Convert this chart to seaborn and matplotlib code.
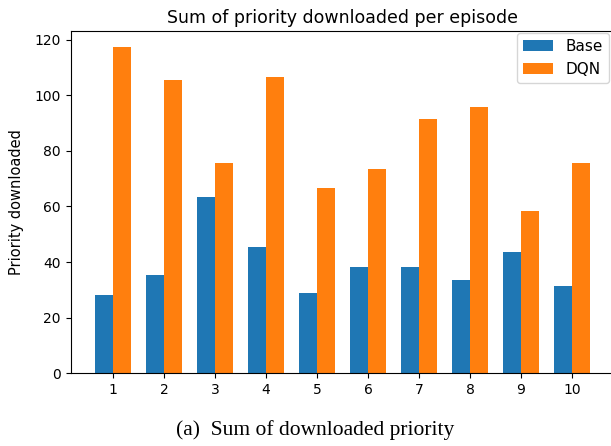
import matplotlib
matplotlib.use("Agg")
import matplotlib.pyplot as plt
import pandas as pd
import seaborn as sns

episodes = [1, 2, 3, 4, 5, 6, 7, 8, 9, 10]
base_priority = [28, 35.5, 63.5, 45.5, 29, 38.2, 38.2, 33.5, 43.5, 31.3]
dqn_priority = [117.2, 105.6, 75.5, 106.6, 66.5, 73.5, 91.4, 95.6, 58.2, 75.5]
series_names = ["Base", "DQN"]
colors = ["#1f77b4", "#ff7f0e"]

df = pd.DataFrame({
    "episode": episodes * 2,
    "priority": base_priority + dqn_priority,
    "method": [series_names[0]] * len(episodes) + [series_names[1]] * len(episodes),
})

fig = plt.figure(figsize=(6.11, 4.46), dpi=100)
ax = fig.add_axes([0.1157, 0.163, 0.890, 0.7675])

sns.barplot(data=df, x="episode", y="priority", hue="method",
            hue_order=series_names, palette=colors, saturation=1,
            width=0.7, linewidth=0, errorbar=None, ax=ax)

ax.set_xlim(-0.835, 9.835)
ax.set_ylim(0, 117.2 * 1.05)
ax.set_yticks([0, 20, 40, 60, 80, 100, 120])
ax.set_xlabel("")
ax.set_ylabel("Priority downloaded", fontsize=10.5, labelpad=7.5)
ax.set_title("Sum of priority downloaded per episode", fontsize=12.5)
ax.legend(loc="upper right", title=None, fontsize=11,
          bbox_to_anchor=(0.9967, 0.926), bbox_transform=fig.transFigure,
          borderaxespad=0)

fig.text(0.516, 0.036, "(a)  Sum of downloaded priority",
         family="Liberation Serif", fontsize=15.5, ha="center", va="center")

fig.savefig("out.png", dpi=100)
